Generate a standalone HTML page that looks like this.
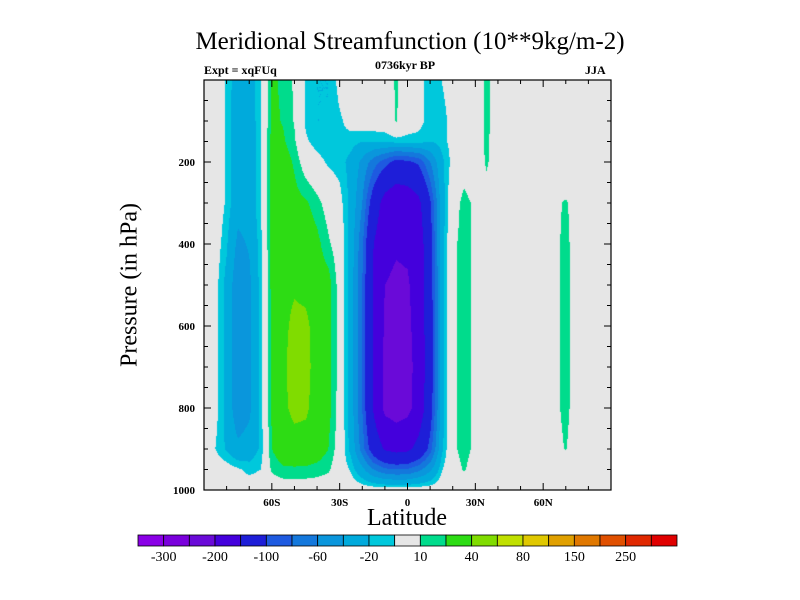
<!DOCTYPE html>
<html><head><meta charset="utf-8">
<style>
body{margin:0;background:#fff;}
#wrap{position:relative;width:800px;height:600px;overflow:hidden;font-family:"Liberation Serif",serif;}
.t{position:absolute;white-space:nowrap;color:#000;}
</style></head>
<body>
<div id="wrap">
<div class="t" style="left:0;width:820px;text-align:center;top:28px;font-size:25px;">Meridional Streamfunction (10**9kg/m-2)</div>
<div class="t" style="left:204px;top:63px;font-size:12px;font-weight:bold;">Expt = xqFUq</div>
<div class="t" style="left:360px;width:90px;text-align:center;top:58px;font-size:12px;font-weight:bold;">0736kyr BP</div>
<div class="t" style="left:585px;top:63px;font-size:12px;font-weight:bold;">JJA</div>
<div class="t" style="left:130px;top:285px;font-size:24px;transform:translate(-50%,-50%) rotate(-90deg);">Pressure (in hPa)</div>
<div class="t" style="left:307px;width:200px;text-align:center;top:505px;font-size:24px;">Latitude</div>
<canvas id="cv" width="407" height="410" style="position:absolute;left:204px;top:80px;"></canvas>
<svg id="ov" width="800" height="600" style="position:absolute;left:0;top:0;"></svg>
</div>
<script>
const lats=[-90,-85,-80,-75,-70,-65,-60,-55,-50,-45,-40,-35,-30,-25,-20,-15,-10,-5,0,5,10,15,20,25,30,35,40,45,50,55,60,65,70,75,80,85,90];
const pressures=[0,100,150,200,300,400,500,600,700,800,900,950,1000];
const row0=[0,0,-12,-30,-28,-12,22,18,8,-12,-20,-20,-5,0,0,0,0,12,0,-5,-15,-10,-3,0,0,13,3,0,0,0,0,0,0,0,0,0,0];
const row100=[0,0,-12,-32,-30,-12,23,19,9,-12,-20,-20,-12,-5,0,0,0,11,0,-5,-15,-15,-5,0,0,13,3,0,0,0,0,0,0,0,0,0,0];
const row150=[0,0,-12,-32,-30,-12,25,22,12,-8,-15,-18,-12,-15,-20,-20,-18,-15,-15,-15,-20,-15,-5,0,0,13,0,0,0,0,0,0,0,0,0,0,0];
const row200=[0,0,-12,-32,-30,-12,25,28,18,2,-5,-12,-15,-25,-45,-70,-90,-110,-105,-95,-60,-25,-5,5,0,12,0,0,0,0,0,0,0,0,0,0,0];
const row300=[0,0,-12,-32,-30,-12,25,32,25,22,14,4,-5,-25,-60,-120,-170,-185,-182,-160,-105,-30,5,13,8,3,0,0,0,0,0,8,11,6,0,0,0];
const row400=[0,-2,-18,-45,-38,-14,25,33,32,30,24,12,2,-28,-75,-150,-185,-195,-192,-175,-115,-30,8,13,8,0,0,0,0,0,0,8,12,6,0,0,0];
const row500=[0,-5,-25,-55,-45,-15,25,35,38,35,28,26,4,-30,-80,-155,-200,-208,-205,-178,-118,-30,8,13,8,0,0,0,0,0,0,8,12,6,0,0,0];
const row600=[0,-5,-25,-55,-45,-15,22,36,44,44,32,26,4,-30,-80,-155,-205,-215,-210,-180,-120,-30,8,13,8,0,0,0,0,0,0,8,12,6,0,0,0];
const row700=[0,-5,-25,-55,-45,-15,22,37,47,46,32,26,4,-30,-80,-155,-210,-222,-215,-182,-120,-30,8,13,8,0,0,0,0,0,0,8,12,6,0,0,0];
const row800=[0,-5,-25,-55,-45,-15,22,36,45,44,30,25,4,-30,-80,-155,-210,-220,-212,-180,-118,-30,8,13,8,0,0,0,0,0,0,8,12,6,0,0,0];
const row900=[0,-10,-22,-35,-30,-18,20,30,32,30,28,20,2,-25,-70,-120,-155,-165,-160,-135,-90,-25,8,13,8,0,0,0,0,0,0,7,10.5,5,0,0,0];
const row950=[0,0,-3,-8,-14,-10,12,18,18,18,16,12,0,-12,-35,-60,-75,-80,-78,-65,-45,-12,5,11,5,0,0,0,0,0,0,0,0,0,0,0,0];
const row1000=[0,0,0,0,0,0,0,0,0,0,0,0,0,0,0,0,0,0,0,0,0,0,0,0,0,0,0,0,0,0,0,0,0,0,0,0,0];
const levels=[-300,-250,-200,-150,-100,-80,-60,-40,-20,-10,10,20,40,60,80,100,150,200,250,300];
const levelLabels=["-300","-200","-100","-60","-20","10","40","80","150","250"];
const colors=["#8a00e6","#7a00dc","#6a0ad8","#4400dc","#1e1ed8","#1e5ae0","#1478dc","#0a96dc","#00aadc","#00c8dc","#e6e6e6","#00dc8c","#2ddc14","#80dc00","#c0e000","#e0c800","#e0a000","#e07800","#e05000","#e02800","#e00000"];
const xTickLats=[-60,-30,0,30,60];
const xTickLabels=["60S","30S","0","30N","60N"];
const yTickP=[200,400,600,800,1000];

const grid=[row0,row100,row150,row200,row300,row400,row500,row600,row700,row800,row900,row950,row1000];
const PX=204,PY=80,PW=407,PH=410;
function xs(lat){return PX+(lat+90)/180*PW;}
function ys(p){return PY+p/1000*PH;}
function findIdx(arr,v){let i=0;while(i<arr.length-2&&v>arr[i+1])i++;return i;}
function field(lat,p){
  const i=findIdx(lats,lat),j=findIdx(pressures,p);
  const tx=Math.max(0,Math.min(1,(lat-lats[i])/(lats[i+1]-lats[i])));
  const ty=Math.max(0,Math.min(1,(p-pressures[j])/(pressures[j+1]-pressures[j])));
  const a=grid[j][i],b=grid[j][i+1],c=grid[j+1][i],d=grid[j+1][i+1];
  return a*(1-tx)*(1-ty)+b*tx*(1-ty)+c*(1-tx)*ty+d*tx*ty;
}
function hex(h){return [parseInt(h.substr(1,2),16),parseInt(h.substr(3,2),16),parseInt(h.substr(5,2),16)];}
const rgb=colors.map(hex);
const cv=document.getElementById('cv');const ctx=cv.getContext('2d');
const img=ctx.createImageData(PW,PH);
for(let y=0;y<PH;y++){for(let x=0;x<PW;x++){
  const lat=-90+(x+0.5)/PW*180,p=(y+0.5)/PH*1000;
  const v=field(lat,p);let k=0;while(k<levels.length&&v>=levels[k])k++;
  const c=rgb[k];const o=(y*PW+x)*4;img.data[o]=c[0];img.data[o+1]=c[1];img.data[o+2]=c[2];img.data[o+3]=255;}}
ctx.putImageData(img,0,0);

const NS='http://www.w3.org/2000/svg';const sv=document.getElementById('ov');
function mk(tag,at){const e=document.createElementNS(NS,tag);for(const k in at)e.setAttribute(k,at[k]);sv.appendChild(e);return e;}
let fr=mk('rect',{x:PX,y:PY,width:PW,height:PH,fill:'none',stroke:'#000','stroke-width':1.2});


for(let lat=-80;lat<=80;lat+=10){const X=xs(lat);const L=(lat%30===0)?7:4;
  let t1=mk('line',{x1:X,y1:PY+PH,x2:X,y2:PY+PH-L,stroke:'#000'});
  
  
  let t2=mk('line',{x1:X,y1:PY,x2:X,y2:PY+L,stroke:'#000'});
  
  }
for(let p=50;p<1000;p+=50){const Y=ys(p);const L=(p%200===0)?7:4;
  let t1=mk('line',{x1:PX,y1:Y,x2:PX+L,y2:Y,stroke:'#000'});
  
  
  let t2=mk('line',{x1:PX+PW,y1:Y,x2:PX+PW-L,y2:Y,stroke:'#000'});
  
  }
xTickLats.forEach((lat,i)=>{let t=mk('text',{x:xs(lat),y:PY+PH+16,'text-anchor':'middle','font-size':11,'font-weight':'bold','font-family':'Liberation Serif, serif'});t.textContent=xTickLabels[i];
  
  });
yTickP.forEach(p=>{let t=mk('text',{x:PX-9,y:ys(p)+4,'text-anchor':'end','font-size':11,'font-weight':'bold','font-family':'Liberation Serif, serif'});t.textContent=String(p);
  
  });
const CX=138,CW=539,CY=535,CH=11,bw=CW/colors.length;
colors.forEach((c,i)=>{let r=mk('rect',{x:CX+i*bw,y:CY,width:bw,height:CH,fill:c,stroke:'#000','stroke-width':0.8});
  
  });
levelLabels.forEach((lab,i)=>{let t=mk('text',{x:CX+(2*i+1)*bw,y:CY+CH+15,'text-anchor':'middle','font-size':14,'font-family':'Liberation Serif, serif'});t.textContent=lab;
  
  });
</script>
</body></html>
